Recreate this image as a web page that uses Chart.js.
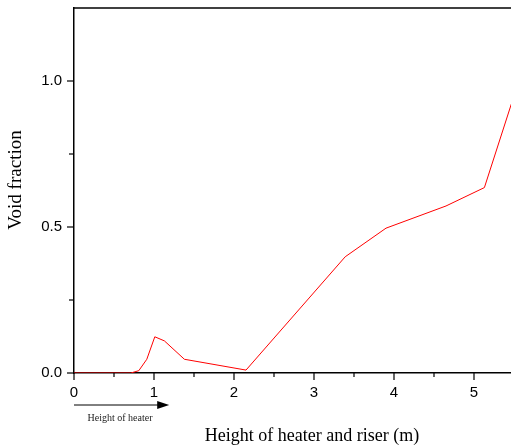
<!DOCTYPE html>
<html lang="en">
<head>
    <meta charset="UTF-8">
    <title>Void fraction along heater and riser</title>
    <script src="https://cdn.jsdelivr.net/npm/chart.js@4.4.0/dist/chart.umd.min.js"></script>
    <style>
        body {
            margin: 0;
            background: #fff;
        }
        #wrap {
            width: 511px;
            height: 448px;
        }
    </style>
</head>
<body>

<div id="wrap">
    <canvas id="voidChart" width="511" height="448"></canvas>
</div>

<script>
    // height along heater + riser (m) and void fraction
    const heights = [0, 0.71, 0.81, 0.91, 1.01, 1.13, 1.38, 2.15, 3.39, 3.90, 4.65, 5.13, 5.47];
    const voidFraction = [0, 0, 0.008, 0.047, 0.124, 0.11, 0.047, 0.010, 0.398, 0.496, 0.572, 0.635, 0.924];

    const xMajorTicks = [0, 1, 2, 3, 4, 5];
    const yMajorTicks = [0, 0.5, 1.0];

    const xTitle = 'Height of heater and riser (m)';
    const yTitle = 'Void fraction';
    const heaterNote = 'Height of heater';

    const points = heights.map((h, i) => ({ x: h, y: voidFraction[i] }));

    // frame top line, tick marks, heater arrow and axis titles
    const frame = {
        id: 'frame',
        afterDraw(chart) {
            const ctx = chart.ctx;
            const area = chart.chartArea;
            const xs = chart.scales.x;
            const ys = chart.scales.y;
            ctx.save();
            ctx.strokeStyle = '#000';
            ctx.lineWidth = 1.5;

            ctx.beginPath();
            ctx.moveTo(area.left, area.top);
            ctx.lineTo(area.right, area.top);
            ctx.stroke();

            ctx.lineWidth = 1.2;
            xs.ticks.forEach(t => {
                const px = xs.getPixelForValue(t.value);
                const len = xMajorTicks.includes(t.value) ? 7 : 4;
                ctx.beginPath();
                ctx.moveTo(px, area.bottom);
                ctx.lineTo(px, area.bottom + len);
                ctx.stroke();
            });
            ys.ticks.forEach(t => {
                if (t.value > 1.2) return;
                const py = ys.getPixelForValue(t.value);
                const len = yMajorTicks.includes(t.value) ? 7 : 5;
                ctx.beginPath();
                ctx.moveTo(area.left, py);
                ctx.lineTo(area.left - len, py);
                ctx.stroke();
            });

            // arrow under the heater section
            const ay = 405;
            const ax0 = xs.getPixelForValue(0);
            const ax1 = xs.getPixelForValue(1.19);
            ctx.lineWidth = 1;
            ctx.beginPath();
            ctx.moveTo(ax0, ay);
            ctx.lineTo(ax1 - 8, ay);
            ctx.stroke();
            ctx.fillStyle = '#000';
            ctx.beginPath();
            ctx.moveTo(ax1, ay);
            ctx.lineTo(ax1 - 12, ay - 4);
            ctx.lineTo(ax1 - 12, ay + 4);
            ctx.closePath();
            ctx.fill();

            ctx.fillStyle = '#222';
            ctx.textAlign = 'center';
            ctx.textBaseline = 'middle';
            ctx.font = '10px "Liberation Serif", serif';
            ctx.fillText(heaterNote, 120, 418);

            ctx.fillStyle = '#000';
            ctx.font = '18px "Liberation Serif", serif';
            ctx.fillText(xTitle, 312, 436);

            ctx.translate(16, 180);
            ctx.rotate(-Math.PI / 2);
            ctx.font = '19px "Liberation Serif", serif';
            ctx.fillText(yTitle, 0, 0);
            ctx.restore();
        }
    };

    new Chart(document.getElementById('voidChart'), {
        type: 'line',
        data: {
            datasets: [{
                data: points,
                borderColor: '#ff0000',
                borderWidth: 1,
                pointRadius: 0,
                fill: false,
                tension: 0
            }]
        },
        options: {
            responsive: false,
            animation: false,
            layout: { padding: { top: 8, right: 0, left: 0, bottom: 0 } },
            plugins: {
                legend: { display: false },
                tooltip: { enabled: false }
            },
            scales: {
                x: {
                    type: 'linear',
                    min: 0,
                    max: 5.4625,
                    afterFit(scale) {
                        scale.height = 75;
                        scale.paddingLeft = 0;
                        scale.paddingRight = 0;
                    },
                    border: { display: true, color: '#000', width: 1.5 },
                    grid: { drawOnChartArea: false, drawTicks: true, tickLength: 7, tickColor: 'rgba(0,0,0,0)' },
                    ticks: {
                        stepSize: 0.5,
                        includeBounds: false,
                        autoSkip: false,
                        maxRotation: 0,
                        padding: 4,
                        color: '#000',
                        font: { family: '"Liberation Sans", Arial, sans-serif', size: 15 },
                        callback: v => xMajorTicks.includes(v) ? String(v) : ''
                    }
                },
                y: {
                    min: 0,
                    max: 1.25,
                    afterFit(scale) {
                        scale.width = 74;
                        scale.paddingTop = 0;
                        scale.paddingBottom = 0;
                    },
                    border: { display: true, color: '#000', width: 1.5 },
                    grid: { drawOnChartArea: false, drawTicks: true, tickLength: 7, tickColor: 'rgba(0,0,0,0)' },
                    ticks: {
                        stepSize: 0.25,
                        autoSkip: false,
                        padding: 5,
                        color: '#000',
                        font: { family: '"Liberation Sans", Arial, sans-serif', size: 15 },
                        callback: v => yMajorTicks.includes(v) ? v.toFixed(1) : ''
                    }
                }
            }
        },
        plugins: [frame]
    });
</script>

</body>
</html>
